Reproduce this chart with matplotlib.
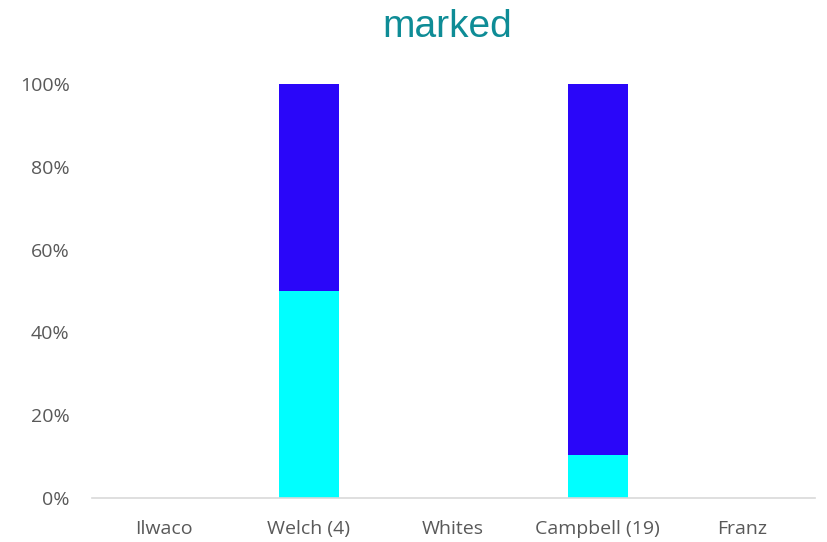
import matplotlib.pyplot as plt
from matplotlib.ticker import PercentFormatter

categories = ['Ilwaco', 'Welch (4)', 'Whites', 'Campbell (19)', 'Franz']
lower = [0, 0.50, 0, 0.105, 0]
upper = [0, 0.50, 0, 0.895, 0]

fig = plt.figure(figsize=(8.27, 5.42), dpi=100)
ax = fig.add_axes([0.111, 0.081, 0.874, 0.764])

x = range(len(categories))
ax.bar(x, lower, width=0.415, color='#00FFFF')
ax.bar(x, upper, width=0.415, bottom=lower, color='#2A06F9')

ax.set_xlim(-0.5, len(categories) - 0.5)
ax.set_ylim(0, 1)
ax.set_yticks([0, 0.2, 0.4, 0.6, 0.8, 1.0])
ax.yaxis.set_major_formatter(PercentFormatter(1.0, decimals=0))
ax.set_xticks(list(x))
ax.set_xticklabels(categories)

for s in ['top', 'right', 'left']:
    ax.spines[s].set_visible(False)
ax.spines['bottom'].set_color('#D9D9D9')
ax.spines['bottom'].set_linewidth(1.2)
ax.tick_params(length=0, labelsize=14, labelcolor='#595959')
ax.tick_params(axis='x', pad=16)
ax.tick_params(axis='y', pad=16)
for lab in ax.get_xticklabels() + ax.get_yticklabels():
    lab.set_family(['Open Sans', 'DejaVu Sans'])

fig.text(0.541, 0.95, 'marked', ha='center', va='center', fontsize=28,
         color='#0E8C96', family=['Liberation Sans Narrow', 'Liberation Sans', 'DejaVu Sans'])

fig.savefig('out.png')
